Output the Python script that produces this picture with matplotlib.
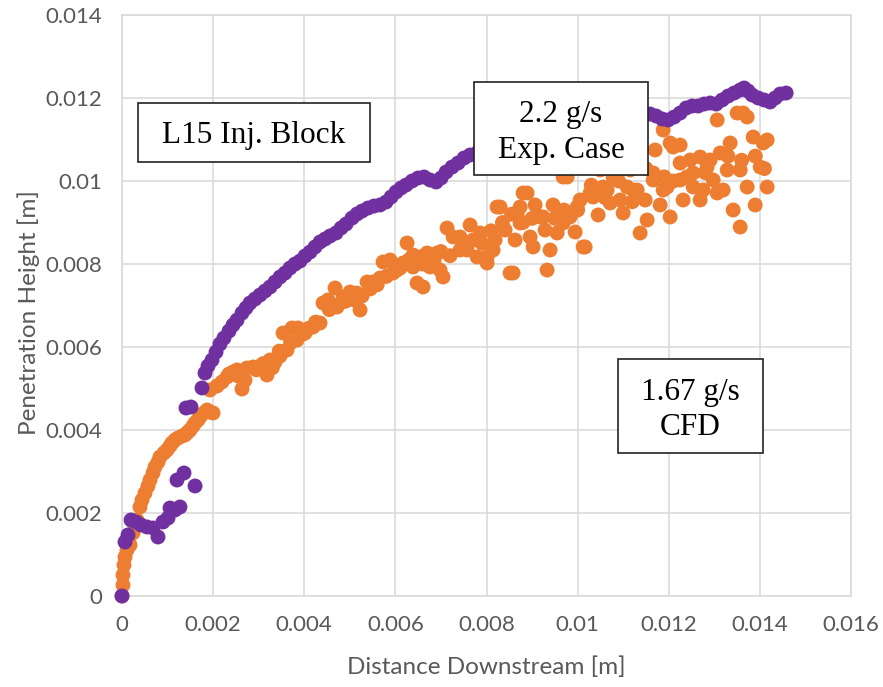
import numpy as np
import matplotlib
matplotlib.use("Agg")
import matplotlib.pyplot as plt
from matplotlib.patches import Rectangle

# ---------------- data (millimetres, converted to metres below) ----------------
cfd_x_mm = [0.000, 0.066, 0.132, 0.198, 0.307, 0.417, 0.549, 0.681, 0.790, 0.900,
            1.010, 1.054, 1.164, 1.273, 1.207, 1.361, 1.603, 1.405, 1.515, 1.756,
            1.822, 1.888, 1.976, 2.064, 2.151, 2.239, 2.349, 2.437, 2.525, 2.634,
            2.722, 2.810, 2.920, 3.030, 3.139, 3.249, 3.359, 3.469, 3.579, 3.688,
            3.798, 3.908, 4.018, 4.127, 4.237, 4.347, 4.457, 4.566, 4.698, 4.808,
            4.918, 5.049, 5.159, 5.269, 5.401, 5.532, 5.664, 5.796, 5.906, 6.015,
            6.125, 6.235, 6.367, 6.498, 6.630, 6.762, 6.894, 7.003, 7.113, 7.245,
            7.377, 7.508, 7.640, 7.816, 7.991, 8.167, 8.343, 8.518, 8.738, 8.957,
            9.177, 9.396, 9.616, 9.835, 10.055, 10.274, 10.494, 10.714, 10.933, 11.153,
            11.372, 11.592, 11.723, 11.855, 11.987, 12.119, 12.250, 12.382, 12.514, 12.645,
            12.777, 12.909, 13.041, 13.172, 13.304, 13.436, 13.568, 13.655, 13.743, 13.831,
            13.963, 14.094, 14.226, 14.336, 14.446, 14.577]
cfd_y_mm = [0.000, 1.301, 1.470, 1.831, 1.783, 1.711, 1.663, 1.639, 1.422, 1.783,
            1.880, 2.120, 2.072, 2.145, 2.795, 2.964, 2.651, 4.530, 4.554, 5.012,
            5.373, 5.542, 5.687, 5.879, 6.072, 6.217, 6.385, 6.530, 6.650, 6.819,
            6.940, 7.060, 7.157, 7.253, 7.349, 7.446, 7.566, 7.687, 7.783, 7.903,
            8.000, 8.072, 8.193, 8.289, 8.410, 8.530, 8.602, 8.675, 8.747, 8.867,
            8.964, 9.108, 9.205, 9.277, 9.349, 9.397, 9.422, 9.494, 9.614, 9.735,
            9.831, 9.903, 10.000, 10.072, 10.096, 10.024, 9.976, 10.072, 10.217, 10.337,
            10.434, 10.554, 10.626, 10.699, 10.771, 10.843, 10.916, 10.988, 11.060, 11.132,
            11.205, 11.277, 11.325, 11.373, 11.422, 11.470, 11.518, 11.542, 11.566, 11.590,
            11.614, 11.614, 11.566, 11.494, 11.470, 11.542, 11.638, 11.759, 11.807, 11.807,
            11.855, 11.879, 11.855, 11.952, 12.048, 12.120, 12.193, 12.241, 12.168, 12.072,
            12.000, 11.952, 11.904, 12.000, 12.096, 12.120]

exp_x_mm = [0.000, 0.022, 0.022, 0.044, 0.066, 0.110, 0.176, 0.241, 0.285, 0.329,
            0.395, 0.439, 0.505, 0.571, 0.615, 0.681, 0.724, 0.790, 0.834, 0.922,
            0.988, 1.054, 1.098, 1.164, 1.229, 1.317, 1.383, 1.449, 1.493, 1.559,
            1.603, 1.668, 1.712, 1.800, 1.866, 1.932, 1.998, 1.932, 2.086, 2.195,
            2.305, 2.437, 2.525, 2.634, 2.744, 2.876, 3.030, 3.183, 3.249, 3.359,
            3.469, 3.622, 3.535, 3.732, 3.864, 3.842, 4.018, 4.193, 4.347, 4.413,
            4.523, 4.676, 4.720, 4.852, 5.005, 5.093, 5.225, 5.269, 5.379, 5.510,
            5.664, 5.730, 5.884, 5.949, 6.037, 6.169, 6.257, 6.389, 6.389, 6.542,
            6.476, 6.608, 6.696, 6.762, 6.915, 6.981, 7.047, 7.135, 7.267, 7.420,
            7.420, 7.574, 7.640, 7.706, 7.794, 7.860, 8.013, 8.013, 8.145, 8.189,
            8.233, 8.299, 8.518, 8.584, 8.672, 8.738, 8.738, 8.803, 8.891, 8.957,
            9.023, 9.177, 9.243, 9.330, 9.396, 9.550, 9.682, 9.682, 9.770, 9.835,
            9.989, 10.055, 10.121, 10.165, 10.274, 10.340, 10.560, 10.648, 10.714, 10.780,
            10.867, 10.999, 11.087, 11.219, 11.307, 11.372, 11.526, 11.658, 11.658, 11.877,
            11.877, 11.965, 12.031, 12.031, 12.097, 12.250, 12.250, 12.316, 12.536, 12.536,
            12.689, 12.755, 12.843, 12.975, 13.063, 13.063, 13.129, 13.194, 13.282, 13.348,
            13.414, 13.502, 13.568, 13.568, 13.633, 13.721, 13.721, 13.853, 14.007, 14.072,
            14.160, 14.160, 8.408, 9.067, 9.462, 9.945, 10.450, 10.933, 11.482, 11.811,
            12.470, 12.909, 13.897, 12.689, 8.628, 9.286, 10.494, 11.153, 11.701, 12.250,
            2.350, 2.550, 2.700, 2.950, 3.100, 3.300, 3.450, 3.700, 3.950, 4.100,
            4.250, 4.550, 4.650, 4.900, 5.150, 5.450, 5.600, 5.800, 6.100, 6.300,
            6.600, 6.850, 7.000, 7.200, 7.500, 7.900, 8.100, 8.350, 8.550, 8.800,
            9.000, 9.500, 9.700, 10.000, 10.300, 10.600, 10.900, 11.200, 11.500, 11.900,
            12.100, 12.400, 12.800, 13.300, 13.600, 13.900, 14.100]
exp_y_mm = [0.000, 0.265, 0.506, 0.747, 0.940, 1.108, 1.229, 1.518, 1.687, 1.831,
            2.145, 2.313, 2.482, 2.651, 2.795, 2.964, 3.108, 3.229, 3.349, 3.446,
            3.518, 3.614, 3.687, 3.759, 3.807, 3.855, 3.880, 3.952, 4.000, 4.096,
            4.169, 4.241, 4.313, 4.410, 4.482, 4.434, 4.410, 4.964, 5.060, 5.157,
            5.277, 5.398, 5.446, 4.988, 5.494, 5.518, 5.542, 5.325, 5.687, 5.639,
            5.783, 5.928, 6.337, 6.458, 6.458, 6.169, 6.337, 6.482, 6.578, 7.060,
            7.133, 7.422, 6.964, 7.205, 7.325, 7.133, 6.892, 7.229, 7.566, 7.566,
            7.663, 8.048, 8.096, 7.783, 7.855, 8.024, 8.506, 8.217, 7.928, 8.169,
            7.542, 7.446, 8.265, 7.928, 8.265, 7.855, 7.687, 8.867, 8.651, 8.337,
            8.651, 8.337, 8.940, 8.578, 8.169, 8.747, 8.024, 8.169, 8.337, 8.578,
            9.373, 9.373, 7.783, 7.783, 9.229, 9.373, 8.988, 9.711, 9.711, 8.651,
            8.410, 9.133, 9.133, 7.855, 8.337, 8.747, 8.988, 10.096, 10.096, 9.133,
            9.373, 9.542, 8.410, 8.410, 9.711, 9.614, 9.855, 9.783, 9.470, 10.096,
            10.193, 9.229, 9.855, 9.783, 9.783, 8.747, 9.060, 10.024, 10.193, 11.229,
            9.783, 9.855, 10.916, 9.133, 10.819, 10.434, 10.024, 9.542, 10.193, 9.855,
            10.578, 9.783, 10.337, 10.024, 11.470, 9.711, 10.675, 9.783, 10.265, 10.916,
            9.301, 11.638, 10.265, 8.891, 11.638, 11.542, 9.855, 11.060, 10.337, 10.916,
            10.988, 9.855, 8.819, 9.422, 9.422, 8.771, 9.181, 9.542, 9.542, 9.422,
            10.506, 10.506, 9.422, 9.542, 8.578, 8.819, 10.265, 10.265, 10.747, 10.867,
            5.350, 5.300, 5.200, 5.450, 5.600, 5.500, 5.900, 6.100, 6.300, 6.450,
            6.600, 6.900, 7.000, 7.100, 7.300, 7.400, 7.500, 7.700, 7.900, 8.100,
            8.000, 8.100, 8.300, 8.200, 8.500, 8.500, 8.800, 9.000, 9.200, 9.000,
            9.100, 9.100, 9.300, 9.300, 9.900, 9.600, 10.000, 9.500, 10.300, 10.100,
            10.000, 10.100, 10.200, 10.600, 10.500, 10.600, 10.300]

x_ticks = [0, 0.002, 0.004, 0.006, 0.008, 0.01, 0.012, 0.014, 0.016]
y_ticks = [0, 0.002, 0.004, 0.006, 0.008, 0.01, 0.012, 0.014]
x_tick_labels = ["0", "0.002", "0.004", "0.006", "0.008", "0.01", "0.012", "0.014", "0.016"]
y_tick_labels = ["0", "0.002", "0.004", "0.006", "0.008", "0.01", "0.012", "0.014"]

cfd_x = np.array(cfd_x_mm) / 1000.0
cfd_y = np.array(cfd_y_mm) / 1000.0
exp_x = np.array(exp_x_mm) / 1000.0
exp_y = np.array(exp_y_mm) / 1000.0

# ---------------- figure ----------------
W, H = 883, 687
fig = plt.figure(figsize=(W / 100, H / 100), dpi=100)
ax = fig.add_axes([122 / W, 1 - 596 / H, (851 - 122) / W, (596 - 15) / H])

orange = "#ED7D31"
purple = "#7030A0"
grid_c = "#D9D9D9"
txt_c = "#595959"

ax.scatter(exp_x, exp_y, s=115, color=orange, edgecolors="none", zorder=3, clip_on=False)
ax.scatter(cfd_x, cfd_y, s=115, color=purple, edgecolors="none", zorder=4, clip_on=False)

ax.set_xlim(0, 0.016)
ax.set_ylim(0, 0.014)
ax.set_xticks(x_ticks)
ax.set_xticklabels(x_tick_labels)
ax.set_yticks(y_ticks)
ax.set_yticklabels(y_tick_labels)
ax.grid(True, color=grid_c, linewidth=1.1, zorder=0)
ax.set_axisbelow(True)
for sp in ax.spines.values():
    sp.set_color(grid_c)
    sp.set_linewidth(1.1)
ax.tick_params(length=0, labelsize=16, labelcolor=txt_c, pad=14)
for lab in ax.get_xticklabels() + ax.get_yticklabels():
    lab.set_fontfamily("Lato")

fig.text(486 / W, 1 - 667 / H, "Distance Downstream [m]", ha="center", va="center",
         fontsize=17.5, color=txt_c, family="Lato")
fig.text(29 / W, 1 - 313 / H, "Penetration Height [m]", ha="center", va="center",
         rotation=90, fontsize=17.5, color=txt_c, family="Lato")

# ---------------- annotation boxes ----------------
def box(x0, y0, x1, y1, lines, baselines):
    r = Rectangle((x0 / W, 1 - y1 / H), (x1 - x0) / W, (y1 - y0) / H,
                  transform=fig.transFigure, facecolor="white", edgecolor="#222222",
                  linewidth=1.2, zorder=10)
    fig.add_artist(r)
    cx = (x0 + x1) / 2
    for t, b in zip(lines, baselines):
        fig.text(cx / W, 1 - b / H, t, ha="center", va="baseline", fontsize=22.5,
                 family="Liberation Serif", color="black", zorder=11)

box(138, 103, 370, 162, ["L15 Inj. Block"], [143])
box(474, 82, 648, 175, ["2.2 g/s", "Exp. Case"], [122, 158])
box(618, 359, 763, 453, ["1.67 g/s", "CFD"], [400, 435])

fig.savefig("out.png", dpi=100)
